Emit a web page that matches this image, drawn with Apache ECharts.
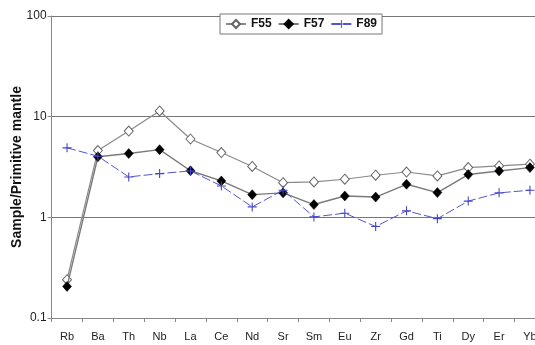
<!DOCTYPE html>
<html>
<head>
<meta charset="utf-8">
<script src="https://cdn.jsdelivr.net/npm/echarts@6/dist/echarts.min.js"></script>
<style>
  html, body { margin: 0; padding: 0; background: #fff; }
  #chart { width: 535px; height: 345px; }
</style>
</head>
<body>
<div id="chart"></div>
<script>
// Trace elements, normalised to primitive mantle
const elements = ['Rb', 'Ba', 'Th', 'Nb', 'La', 'Ce', 'Nd', 'Sr', 'Sm', 'Eu', 'Zr', 'Gd', 'Ti', 'Dy', 'Er', 'Yb'];

const f55 = [0.24, 4.6, 7.2, 11.4, 6.0, 4.4, 3.2, 2.21, 2.25, 2.39, 2.62, 2.82, 2.58, 3.12, 3.24, 3.37];
const f57 = [0.206, 4.0, 4.3, 4.7, 2.9, 2.3, 1.68, 1.75, 1.34, 1.63, 1.59, 2.13, 1.76, 2.66, 2.89, 3.12];
const f89 = [4.9, 4.05, 2.52, 2.72, 2.89, 2.05, 1.27, 1.86, 1.01, 1.10, 0.81, 1.16, 0.97, 1.45, 1.75, 1.86];

const yTicks = [0.1, 1, 10, 100];

const FONT = 'Liberation Sans, Arial, sans-serif';
const PLUS = 'path://M4.4,0H5.6V4.4H10V5.6H5.6V10H4.4V5.6H0V4.4H4.4Z';

const chart = echarts.init(document.getElementById('chart'), null, { renderer: 'canvas' });

chart.setOption({
  animation: false,
  backgroundColor: '#fff',
  grid: {
    left: 51.6, top: 16, right: -10.4, bottom: 27,
    containLabel: false,
    outerBoundsMode: 'none'
  },
  legend: {
    left: 220,
    top: 14,
    padding: [4, 5, 4, 5],
    itemGap: 6,
    itemWidth: 20,
    itemHeight: 10,
    borderColor: '#777',
    borderWidth: 1,
    backgroundColor: '#fff',
    textStyle: { fontFamily: FONT, fontSize: 12, fontWeight: 'bold', color: '#111' },
    data: ['F55', 'F57', 'F89']
  },
  xAxis: {
    type: 'category',
    data: elements,
    boundaryGap: true,
    axisLine: { lineStyle: { color: '#888', width: 1 } },
    axisTick: { show: true, alignWithLabel: false, length: 4, lineStyle: { color: '#888' } },
    axisLabel: { fontFamily: FONT, fontSize: 11, color: '#222', margin: 13, hideOverlap: false },
    splitLine: { show: false }
  },
  yAxis: {
    type: 'log',
    logBase: 10,
    min: yTicks[0],
    max: yTicks[yTicks.length - 1],
    name: 'Sample/Primitive mantle',
    nameLocation: 'middle',
    nameGap: 27,
    nameRotate: 90,
    nameMoveOverlap: false,
    nameTextStyle: { fontFamily: FONT, fontSize: 14, fontWeight: 'bold', color: '#111' },
    axisLine: { show: true, lineStyle: { color: '#888', width: 1 } },
    axisTick: { show: true, inside: false, length: 4, lineStyle: { color: '#888' } },
    axisLabel: {
      fontFamily: FONT, fontSize: 12, color: '#222', margin: 5,
      formatter: v => String(+v.toPrecision(3))
    },
    splitLine: { show: true, lineStyle: { color: '#777', width: 1 } }
  },
  series: [
    {
      name: 'F55',
      type: 'line',
      data: f55,
      symbol: 'diamond',
      symbolSize: [9, 10],
      lineStyle: { color: '#8a8a8a', width: 1.2 },
      itemStyle: { color: '#fff', borderColor: '#666', borderWidth: 1 },
      z: 3
    },
    {
      name: 'F57',
      type: 'line',
      data: f57,
      symbol: 'diamond',
      symbolSize: [9, 10],
      lineStyle: { color: '#7a7a7a', width: 1.4 },
      itemStyle: { color: '#000', borderColor: '#000', borderWidth: 0.5 },
      z: 4
    },
    {
      name: 'F89',
      type: 'line',
      data: f89,
      symbol: PLUS,
      symbolSize: 9,
      symbolKeepAspect: true,
      lineStyle: { color: '#5555d0', width: 1, type: [9, 3] },
      itemStyle: { color: '#4444c8', borderWidth: 0 },
      z: 5
    }
  ]
});
</script>
</body>
</html>
